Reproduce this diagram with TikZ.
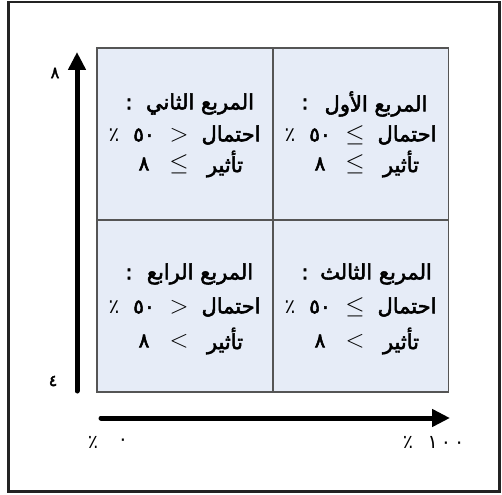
\documentclass[tikz,border=0pt]{standalone}
\usepackage{fontspec}
\newfontfamily\ar[Script=Arabic,FakeBold=2.5]{DejaVu Sans}
\newfontfamily\arl[Script=Arabic]{DejaVu Sans}
\usetikzlibrary{arrows.meta}
\TeXXeTstate=1
\definecolor{cellfill}{RGB}{230,236,247}
\definecolor{gridc}{RGB}{85,85,85}
\definecolor{framec}{RGB}{35,35,35}
\begin{document}
\begin{tikzpicture}[x=1pt,y=-1pt,
  cell/.style={draw=gridc, line width=1.8pt, fill=cellfill, inner sep=0pt, minimum height=172pt},
  txt/.style={font=\ar\fontsize{21}{23}\selectfont, inner sep=0pt, anchor=center},
  num/.style={font=\ar\fontsize{20}{22}\selectfont, inner sep=0pt, anchor=center},
  sym/.style={font=\fontsize{25}{27}\selectfont, inner sep=0pt, anchor=center},
  pc/.style={font=\arl\fontsize{20}{22}\selectfont, inner sep=0pt, anchor=center},
  axlab/.style={font=\ar\fontsize{16}{18}\selectfont, inner sep=0pt},
  pct/.style={font=\arl\fontsize{19}{21}\selectfont, inner sep=0pt},
  axisarrow/.style={line width=5pt, line cap=round, -{Triangle[length=18pt,width=17pt]}}]
\useasboundingbox (0,0) rectangle (502,494);
\draw[framec, line width=2.6pt] (8.7,2) rectangle (499.5,491.5);
% cells
\node[cell, minimum width=176pt] (tl) at (185,134) {};
\node[cell, minimum width=175.5pt] (tr) at (360.75,134) {};
\node[cell, minimum width=176pt] (bl) at (185,306) {};
\node[cell, minimum width=175.5pt] (br) at (360.75,306) {};
% axes
\coordinate (vb) at (77,391);
\coordinate (vt) at (77,52);
\coordinate (hl) at (101,418);
\coordinate (hr) at (450,418);
\draw[axisarrow] (vb) -- (vt);
\draw[axisarrow] (hl) -- (hr);
\node[axlab] (y8) at (55,73) {٨};
\node[axlab] (y4) at (53,381) {٤};
\node[pct] (x0p) at (93,442) {٪};
\node[pct] (x0) at (123,442) {٠};
\node[pct] (x100p) at (408,442) {٪};
\node[pct] (x100) at (446,442) {١\hspace{3pt}٠\hspace{3pt}٠};
% ---- TL (cell left 97)
\node[txt] (tl1c) at (129,104) {:};
\node[txt] (tl1) at (200,104) {\beginR المربع الثاني\endR};
\node[pc]  (tl2p) at (114,135) {٪};
\node[num] (tl2n) at (144,135) {٥٠};
\node[sym] (tl2s) at (179,135) {$>$};
\node[txt] (tl2w) at (231,135) {\beginR احتمال\endR};
\node[num] (tl3n) at (144,164) {٨};
\node[sym] (tl3s) at (179,164) {$\leq$};
\node[txt] (tl3w) at (225,164) {\beginR تأثير\endR};
% ---- TR (cell left 273)
\node[txt] (tr1c) at (305,104) {:};
\node[txt] (tr1) at (376,104) {\beginR المربع الأول\endR};
\node[pc]  (tr2p) at (290,135) {٪};
\node[num] (tr2n) at (320,135) {٥٠};
\node[sym] (tr2s) at (355,135) {$\leq$};
\node[txt] (tr2w) at (407,135) {\beginR احتمال\endR};
\node[num] (tr3n) at (320,164) {٨};
\node[sym] (tr3s) at (355,164) {$\leq$};
\node[txt] (tr3w) at (401,164) {\beginR تأثير\endR};
% ---- BL
\node[txt] (bl1c) at (129,274) {:};
\node[txt] (bl1) at (200,274) {\beginR المربع الرابع\endR};
\node[pc]  (bl2p) at (114,307) {٪};
\node[num] (bl2n) at (144,307) {٥٠};
\node[sym] (bl2s) at (179,307) {$>$};
\node[txt] (bl2w) at (231,307) {\beginR احتمال\endR};
\node[num] (bl3n) at (144,341) {٨};
\node[sym] (bl3s) at (179,341) {$<$};
\node[txt] (bl3w) at (225,341) {\beginR تأثير\endR};
% ---- BR
\node[txt] (br1c) at (305,274) {:};
\node[txt] (br1) at (376,274) {\beginR المربع الثالث\endR};
\node[pc]  (br2p) at (290,307) {٪};
\node[num] (br2n) at (320,307) {٥٠};
\node[sym] (br2s) at (355,307) {$\leq$};
\node[txt] (br2w) at (407,307) {\beginR احتمال\endR};
\node[num] (br3n) at (320,341) {٨};
\node[sym] (br3s) at (355,341) {$<$};
\node[txt] (br3w) at (401,341) {\beginR تأثير\endR};
\end{tikzpicture}
\end{document}
